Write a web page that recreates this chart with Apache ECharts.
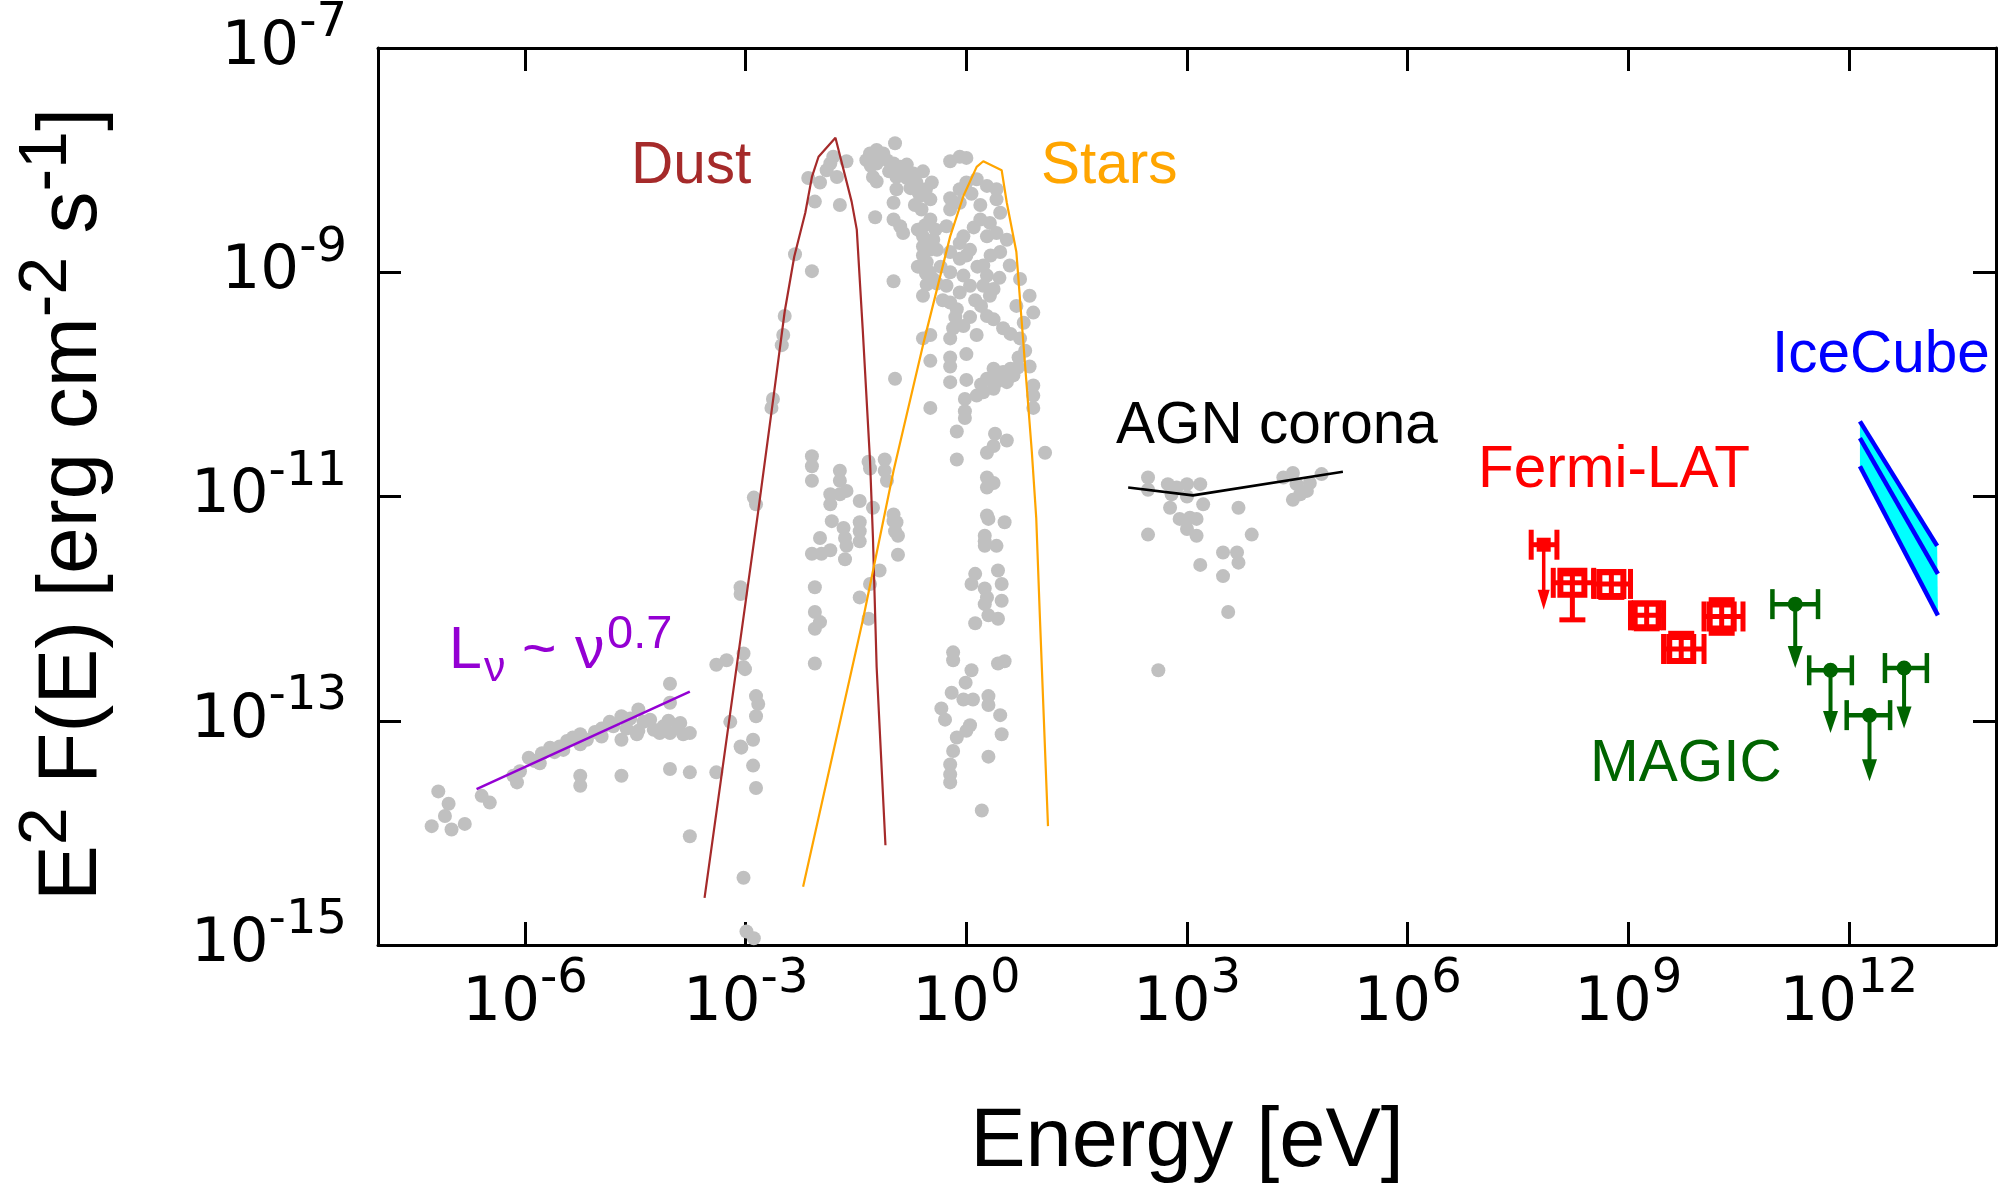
<!DOCTYPE html>
<html><head><meta charset="utf-8">
<script src="https://cdn.jsdelivr.net/npm/echarts@6/dist/echarts.min.js"></script>
<style>html,body{margin:0;padding:0;background:#fff}#c{width:2008px;height:1190px}</style>
</head><body><div id="c"></div>
<script>
// All values are log10(E / eV) and log10(E^2 F(E) / erg cm^-2 s^-1).
const xTickExponents = [-6, -3, 0, 3, 6, 9, 12];
const yTickExponents = [-15, -13, -11, -9, -7];

// archival grey data points
const radioPoints = [[-7.18,-13.63],[-7.04,-13.74],[-7.09,-13.85],[-7.27,-13.94],[-7.00,-13.97],[-6.82,-13.92],[-6.59,-13.67],[-6.48,-13.73],[-6.16,-13.49],[-6.11,-13.55],[-5.87,-13.36],[-5.77,-13.29],[-5.66,-13.24],[-5.53,-13.23],[-5.43,-13.18],[-5.25,-13.12],[-5.25,-13.21],[-5.25,-13.49],[-5.25,-13.58],[-4.96,-13.07],[-4.96,-13.14],[-4.69,-12.96],[-4.69,-13.17],[-4.69,-13.49],[-4.57,-12.98],[-4.46,-12.90],[-4.46,-13.09],[-4.30,-12.99],[-4.12,-13.05],[-4.03,-13.11],[-4.03,-12.84],[-4.03,-12.67],[-3.89,-13.02],[-3.76,-13.11],[-4.03,-13.43],[-3.76,-13.46],[-3.40,-13.46],[-3.76,-14.03],[-3.40,-12.50],[-3.26,-12.46],[-3.03,-12.40],[-3.03,-12.52],[-3.21,-13.01],[-3.06,-13.24],[-3.03,-14.40],[-2.99,-14.88],[-5.48,-13.26],[-5.16,-13.17],[-4.85,-13.01],[-4.62,-13.07],[-4.39,-13.01],[-4.17,-13.11],[-3.92,-13.07],[-4.48,-13.12],[-5.80,-13.38],[-6.07,-13.45],[-2.89,-11.01],[-2.86,-11.07],[-3.07,-11.81],[-3.07,-11.87],[-3.01,-12.54],[-2.86,-12.78],[-2.83,-12.85],[-2.86,-12.96],[-3.07,-13.23],[-2.90,-13.17],[-2.90,-13.40],[-2.86,-13.60],[-2.89,-14.94],[-5.95,-13.33],[-5.60,-13.28],[-5.35,-13.15],[-5.05,-13.10],[-4.80,-13.05],[-4.25,-13.08],[-4.05,-13.00],[-3.85,-13.12]];

const infraredPoints = [[-1.83,-11.22],[-1.67,-11.28],[-1.65,-11.37],[-1.63,-11.44],[-1.45,-11.23],[-1.45,-11.40],[-1.99,-11.37],[-2.10,-11.51],[-1.97,-11.51],[-1.85,-11.48],[-1.65,-11.56],[-0.99,-11.22],[-0.97,-11.31],[-0.93,-11.35],[-0.93,-11.52],[-1.18,-11.66],[-1.31,-11.78],[-1.45,-11.90],[-1.33,-12.09],[-2.06,-11.81],[-2.06,-12.03],[-1.99,-12.12],[-2.06,-12.18],[-2.06,-12.49],[-2.15,-8.16],[-1.90,-8.09],[-1.85,-8.03],[-1.76,-8.15],[-1.63,-8.01],[-1.81,-7.97],[-1.99,-8.20],[-2.06,-8.37],[-1.72,-8.40],[-2.33,-8.84],[-2.10,-8.99],[-2.47,-9.39],[-2.49,-9.56],[-2.51,-9.65],[-2.63,-10.13],[-2.65,-10.21],[-2.10,-10.64],[-2.10,-10.73],[-2.10,-10.86],[-1.72,-10.77],[-1.72,-10.86],[-1.85,-10.98],[-1.85,-11.07],[-1.72,-10.98],[-1.63,-10.95],[-1.45,-11.04],[-1.45,-11.31],[-1.33,-10.69],[-1.31,-10.75],[-1.11,-10.67],[-1.11,-10.77],[-1.08,-10.86],[-1.27,-11.10],[-0.99,-11.16],[-0.95,-11.23],[-0.97,-7.85],[-1.31,-7.94],[-1.22,-7.91],[-1.13,-7.94],[-1.36,-8.00],[-1.22,-8.03],[-1.08,-8.00],[-1.27,-8.15],[-1.22,-8.19],[-0.99,-8.03],[-0.90,-8.06],[-0.81,-8.04],[-0.95,-8.15],[-0.81,-8.16],[-0.72,-8.12],[-0.59,-8.10],[-0.68,-8.20],[-0.47,-8.20],[-0.95,-8.26],[-0.99,-8.38],[-0.63,-8.32],[-0.49,-8.35],[-0.61,-8.44],[-0.49,-8.53],[-1.24,-8.51],[-0.99,-8.53],[-0.90,-8.59],[-0.86,-8.65],[-0.59,-8.68],[-0.45,-8.71],[-0.59,-8.77],[-0.59,-8.85],[-0.54,-8.91],[-0.99,-9.08],[-0.54,-9.11],[-0.45,-9.06],[-0.59,-9.21],[-1.17,-7.97],[-1.05,-8.10],[-0.86,-8.10],[-0.76,-8.25],[-0.66,-8.28],[-0.55,-8.26],[-0.70,-8.40],[-0.56,-8.58],[-0.66,-8.62],[-0.50,-8.80],[-0.66,-8.95],[-0.55,-9.01],[-1.30,-8.05],[-0.40,-8.80],[-0.35,-8.95],[-0.40,-9.10],[-0.32,-9.25],[-0.50,-9.00],[-0.42,-8.62]];

const opticalPoints = [[0.30,-11.20],[0.52,-11.23],[0.25,-11.40],[0.41,-11.44],[0.25,-11.44],[0.12,-11.69],[0.07,-11.78],[0.43,-11.66],[0.48,-11.78],[0.48,-11.93],[0.25,-11.82],[0.28,-11.90],[0.25,-11.96],[0.30,-12.06],[0.43,-12.09],[0.12,-12.13],[-0.18,-12.39],[-0.18,-12.46],[0.07,-12.55],[0.43,-12.49],[0.52,-12.47],[-0.01,-12.66],[-0.20,-12.75],[-0.04,-12.81],[0.09,-12.81],[0.30,-12.78],[0.30,-12.86],[-0.34,-12.89],[-0.29,-12.99],[0.05,-13.04],[0.00,-13.09],[0.46,-12.95],[-0.13,-13.15],[0.48,-13.12],[-0.18,-13.27],[-0.22,-13.39],[-0.22,-13.48],[-0.22,-13.55],[0.30,-13.32],[0.21,-13.80],[-0.22,-8.01],[-0.09,-7.97],[0.00,-7.98],[-0.22,-8.34],[-0.09,-8.26],[0.00,-8.20],[0.14,-8.17],[0.28,-8.23],[0.41,-8.26],[-0.22,-8.44],[-0.09,-8.38],[-0.27,-8.59],[-0.04,-8.68],[-0.09,-8.74],[0.19,-8.53],[0.32,-8.56],[0.46,-8.47],[0.41,-8.35],[0.28,-8.68],[0.41,-8.65],[0.55,-8.71],[0.46,-8.82],[0.59,-8.94],[-0.22,-8.82],[-0.09,-8.88],[0.00,-8.85],[-0.22,-9.00],[-0.04,-9.03],[0.23,-8.94],[0.28,-9.03],[-0.27,-9.12],[-0.09,-9.18],[0.05,-9.12],[0.23,-9.12],[0.37,-9.15],[-0.22,-9.27],[-0.13,-9.33],[0.32,-9.21],[0.28,-9.39],[0.37,-9.42],[0.73,-9.06],[0.86,-9.21],[0.91,-9.36],[0.68,-9.30],[-0.04,-9.48],[-0.18,-9.50],[-0.49,-9.56],[-0.59,-9.59],[-0.22,-9.59],[0.14,-9.56],[-0.49,-9.79],[-0.22,-9.76],[0.00,-9.73],[-0.22,-9.84],[-0.22,-9.98],[0.00,-9.96],[0.73,-9.59],[0.71,-9.76],[0.86,-9.84],[0.37,-9.86],[0.50,-9.89],[0.64,-9.92],[0.28,-9.95],[0.41,-9.98],[0.55,-9.98],[0.23,-10.07],[0.14,-10.10],[0.37,-10.04],[0.91,-10.01],[0.91,-10.10],[0.91,-10.21],[-0.02,-10.13],[-0.02,-10.24],[-0.02,-10.30],[-0.13,-10.42],[-0.49,-10.21],[-0.97,-9.95],[0.39,-10.44],[0.55,-10.50],[0.37,-10.55],[0.28,-10.61],[-0.13,-10.67],[1.07,-10.61],[0.28,-10.83],[0.37,-10.88],[0.28,-10.92],[0.28,-11.17],[0.25,-11.35],[0.07,-8.30],[0.19,-8.40],[0.10,-8.60],[0.05,-8.80],[0.15,-8.95],[0.33,-8.85],[0.45,-9.05],[0.12,-9.25],[0.20,-9.30],[-0.15,-9.40],[0.05,-9.40],[0.50,-9.50],[0.60,-9.55],[0.78,-9.45],[0.80,-9.70],[0.45,-9.93],[0.60,-9.86],[0.70,-9.85],[0.20,-10.00]];

const xrayPoints = [[2.47,-10.83],[2.47,-10.94],[2.74,-10.89],[2.86,-10.92],[3.00,-10.89],[3.18,-10.89],[2.79,-10.98],[3.00,-11.00],[2.77,-11.10],[3.22,-11.07],[2.90,-11.20],[3.04,-11.19],[3.13,-11.20],[3.00,-11.29],[3.13,-11.35],[2.47,-11.34],[3.70,-11.10],[3.88,-11.34],[3.49,-11.50],[3.68,-11.50],[3.70,-11.59],[3.18,-11.61],[3.49,-11.71],[3.56,-12.03],[2.61,-12.55],[4.44,-10.79],[4.31,-10.83],[4.49,-10.89],[4.67,-10.88],[4.83,-10.80],[4.63,-10.95],[4.44,-11.03],[4.54,-10.98]];

// model curves
const dustCurve = [[-3.56,-14.58],[-2.83,-11.13],[-2.62,-10.10],[-2.47,-9.35],[-2.34,-8.86],[-2.19,-8.47],[-2.10,-8.15],[-2.01,-7.97],[-1.78,-7.80],[-1.56,-8.37],[-1.49,-8.62],[-1.41,-9.50],[-1.31,-10.68],[-1.27,-11.37],[-1.22,-12.52],[-1.10,-14.11]];
const starsCurve = [[-2.22,-14.48],[-1.40,-12.08],[-0.99,-10.77],[-0.59,-9.65],[-0.22,-8.68],[-0.04,-8.32],[0.14,-8.06],[0.23,-8.01],[0.48,-8.09],[0.55,-8.38],[0.68,-8.82],[0.75,-9.42],[0.82,-10.01],[0.89,-10.60],[0.95,-11.19],[1.00,-12.08],[1.11,-13.94]];
const radioSlope = [[-6.66,-13.61],[-3.76,-12.74]];
const agnCorona = [[2.20,-10.92],[3.08,-10.99],[5.12,-10.78]];

// IceCube band
const iceCubeUpper = [[12.15,-10.33],[13.20,-11.44]];
const iceCubeMiddle = [[12.15,-10.48],[13.21,-11.69]];
const iceCubeLower = [[12.15,-10.73],[13.21,-12.06]];

// Fermi-LAT points
const fermiE   = [8.24, 8.77, 9.25, 9.72, 10.27];
const fermiElo = [7.98, 8.53, 9.03, 9.48, 10.03];
const fermiEhi = [8.53, 9.03, 9.48, 10.03, 10.56];
const fermiF   = [-11.77, -11.78, -12.06, -12.36, -12.07];
const fermiFlo = [-12.10, -11.90, -12.18, -12.47, -12.22];
const fermiFhi = [-11.69, -11.68, -11.96, -12.22, -11.92];
// Fermi-LAT upper limit
const fermiUlE = [7.85], fermiUlElo = [7.68], fermiUlEhi = [8.03], fermiUlF = [-11.43], fermiUlArrowTo = [-12.01];

// MAGIC upper limits
const magicE   = [11.27, 11.75, 12.28, 12.75];
const magicElo = [10.96, 11.46, 11.97, 12.49];
const magicEhi = [11.58, 12.04, 12.56, 13.06];
const magicF   = [-11.96, -12.55, -12.95, -12.53];
const magicArrowTo = [-12.53, -13.11, -13.54, -13.07];

const C_DUST = '#a52a2a', C_STARS = '#ffa500', C_RADIO = '#9400d3', C_FERMI = '#ff0000',
      C_MAGIC = '#006400', C_ICE = '#0000ff', C_ICEFILL = '#00ffff', C_GREY = '#c0c0c0';
const LBL = '"Liberation Sans", Arial, sans-serif';
const TICKF = '"DejaVu Sans", sans-serif';

const tickRich = {
  b: {fontFamily: TICKF, fontSize: 61, lineHeight: 96, color: '#000'},
  s: {fontFamily: TICKF, fontSize: 48, verticalAlign: 'top', color: '#000'}
};
const tickFmt = v => '{b|10}{s|' + v + '}';
const axLine = {show: true, onZero: false, lineStyle: {color: '#000', width: 3}};
const tickStyle = vals => ({show: true, inside: true, length: 23, lineStyle: {color: '#000', width: 3}, customValues: vals});

function L(x1, y1, x2, y2, color, w) {
  return {type: 'line', shape: {x1, y1, x2, y2}, style: {stroke: color, lineWidth: w, lineCap: 'butt'}};
}

function fermiRender(params, api) {
  const i = params.dataIndex;
  const c = api.coord([fermiE[i], fermiF[i]]);
  const xl = api.coord([fermiElo[i], fermiF[i]])[0];
  const xh = api.coord([fermiEhi[i], fermiF[i]])[0];
  const yt = api.coord([fermiE[i], fermiFhi[i]])[1];
  const yb = api.coord([fermiE[i], fermiFlo[i]])[1];
  const w = 5, cap = 15, vcap = 13, h = 12;
  return {type: 'group', children: [
    L(xl, c[1], xh, c[1], C_FERMI, w), L(xl, c[1]-cap, xl, c[1]+cap, C_FERMI, w), L(xh, c[1]-cap, xh, c[1]+cap, C_FERMI, w),
    L(c[0], yt, c[0], yb, C_FERMI, w), L(c[0]-vcap, yt, c[0]+vcap, yt, C_FERMI, w), L(c[0]-vcap, yb, c[0]+vcap, yb, C_FERMI, w),
    {type: 'rect', shape: {x: c[0]-h, y: c[1]-h, width: 2*h, height: 2*h}, style: {stroke: C_FERMI, lineWidth: 6, fill: null}}
  ]};
}
function fermiUlRender(params, api) {
  const i = params.dataIndex;
  const c = api.coord([fermiUlE[i], fermiUlF[i]]);
  const xl = api.coord([fermiUlElo[i], fermiUlF[i]])[0];
  const xh = api.coord([fermiUlEhi[i], fermiUlF[i]])[0];
  const ye = api.coord([fermiUlE[i], fermiUlArrowTo[i]])[1];
  const w = 5, cap = 15;
  return {type: 'group', children: [
    L(xl, c[1], xh, c[1], C_FERMI, w), L(xl, c[1]-cap, xl, c[1]+cap, C_FERMI, w), L(xh, c[1]-cap, xh, c[1]+cap, C_FERMI, w),
    {type: 'rect', shape: {x: c[0]-7, y: c[1]-7, width: 14, height: 14}, style: {fill: C_FERMI}},
    L(c[0], c[1], c[0], ye - 12, C_FERMI, 3.5),
    {type: 'polygon', shape: {points: [[c[0], ye], [c[0]-6, ye-20], [c[0]+6, ye-20]]}, style: {fill: C_FERMI}}
  ]};
}
function magicRender(params, api) {
  const i = params.dataIndex;
  const c = api.coord([magicE[i], magicF[i]]);
  const xl = api.coord([magicElo[i], magicF[i]])[0];
  const xh = api.coord([magicEhi[i], magicF[i]])[0];
  const ye = api.coord([magicE[i], magicArrowTo[i]])[1];
  const w = 4.5, cap = 15;
  return {type: 'group', children: [
    L(xl, c[1], xh, c[1], C_MAGIC, w), L(xl, c[1]-cap, xl, c[1]+cap, C_MAGIC, w), L(xh, c[1]-cap, xh, c[1]+cap, C_MAGIC, w),
    {type: 'circle', shape: {cx: c[0], cy: c[1], r: 7.5}, style: {fill: C_MAGIC}},
    L(c[0], c[1], c[0], ye - 12, C_MAGIC, 4),
    {type: 'polygon', shape: {points: [[c[0], ye], [c[0]-7.5, ye-22], [c[0]+7.5, ye-22]]}, style: {fill: C_MAGIC}}
  ]};
}
function iceFillRender(params, api) {
  if (params.dataIndex !== 0) return null;
  const pts = iceCubeUpper.map(p => api.coord(p)).concat(iceCubeLower.slice().reverse().map(p => api.coord(p)));
  return {type: 'polygon', shape: {points: pts}, style: {fill: C_ICEFILL}};
}

const scatter = (data) => ({type: 'scatter', data, symbol: 'circle', symbolSize: 14, itemStyle: {color: C_GREY, opacity: 1}, silent: true, z: 1});
const curve = (data, color, width) => ({type: 'line', data, showSymbol: false, symbol: 'none', lineStyle: {color, width}, silent: true, z: 2});

const chart = echarts.init(document.getElementById('c'), null, {renderer: 'canvas', width: 2008, height: 1190});
const txt = (x, y, text, fill, size) => ({type: 'text', x, y, style: {text, fill, font: size + 'px ' + LBL, align: 'left', verticalAlign: 'middle'}});
chart.setOption({
  animation: false,
  backgroundColor: '#fff',
  grid: {left: 378, right: 12, top: 47, bottom: 240, containLabel: false},
  xAxis: [{
    type: 'value', position: 'bottom', min: -8, max: 14,
    axisLine: axLine, axisTick: tickStyle(xTickExponents),
    axisLabel: {show: true, margin: 11, customValues: xTickExponents, formatter: tickFmt, rich: tickRich},
    splitLine: {show: false},
    name: 'Energy [eV]', nameLocation: 'middle', nameGap: 157,
    nameTextStyle: {fontFamily: LBL, fontSize: 83, lineHeight: 83, color: '#000'}
  }, {
    type: 'value', position: 'top', min: -8, max: 14,
    axisLine: axLine, axisTick: tickStyle(xTickExponents), axisLabel: {show: false}, splitLine: {show: false}
  }],
  yAxis: [{
    type: 'value', position: 'left', min: -15, max: -7,
    axisLine: axLine, axisTick: tickStyle(yTickExponents),
    axisLabel: {show: true, margin: 31, customValues: yTickExponents, formatter: tickFmt, rich: tickRich, showMinLabel: true, showMaxLabel: true},
    splitLine: {show: false},
    name: '{b|E}{s|2}{b| F(E) [erg cm}{s|-2}{b| s}{s|-1}{b|]}', nameLocation: 'middle', nameGap: 245, nameRotate: 90,
    nameTextStyle: {color: '#000', padding: [0, 16, 0, 0], rich: {
      b: {fontFamily: LBL, fontSize: 84, lineHeight: 120, color: '#000'},
      s: {fontFamily: LBL, fontSize: 68, verticalAlign: 'top', color: '#000'}
    }}
  }, {
    type: 'value', position: 'right', min: -15, max: -7,
    axisLine: axLine, axisTick: tickStyle(yTickExponents), axisLabel: {show: false}, splitLine: {show: false}
  }],
  series: [
    scatter(radioPoints), scatter(infraredPoints), scatter(opticalPoints), scatter(xrayPoints),
    curve(dustCurve, C_DUST, 2.2), curve(starsCurve, C_STARS, 2.2), curve(radioSlope, C_RADIO, 2.6), curve(agnCorona, '#000', 2.6),
    {type: 'custom', coordinateSystem: 'cartesian2d', renderItem: iceFillRender, data: iceCubeUpper, silent: true, z: 2},
    curve(iceCubeUpper, C_ICE, 4.5), curve(iceCubeMiddle, C_ICE, 4.5), curve(iceCubeLower, C_ICE, 4.5),
    {type: 'custom', coordinateSystem: 'cartesian2d', renderItem: fermiRender, data: fermiE.map((e, i) => [e, fermiF[i]]), silent: true, z: 3},
    {type: 'custom', coordinateSystem: 'cartesian2d', renderItem: fermiUlRender, data: fermiUlE.map((e, i) => [e, fermiUlF[i]]), silent: true, z: 3},
    {type: 'custom', coordinateSystem: 'cartesian2d', renderItem: magicRender, data: magicE.map((e, i) => [e, magicF[i]]), silent: true, z: 3}
  ],
  graphic: [
    txt(631, 167, 'Dust', C_DUST, 58.5),
    txt(1041, 167, 'Stars', C_STARS, 58.5),
    txt(1772, 356, 'IceCube', C_ICE, 58.5),
    txt(1116, 427, 'AGN corona', '#000', 58.5),
    txt(1478, 471, 'Fermi-LAT', C_FERMI, 58.5),
    txt(1590, 765, 'MAGIC', C_MAGIC, 58.5),
    // L_nu ~ nu^0.7 label, built from pieces for sub/superscript placement
    txt(449, 652, 'L', C_RADIO, 59),
    txt(484, 669, 'ν', C_RADIO, 43),
    txt(522, 652, '~', C_RADIO, 59),
    txt(575, 652, 'ν', C_RADIO, 59),
    txt(607, 635, '0.7', C_RADIO, 47)
  ]
});
</script>
</body></html>
